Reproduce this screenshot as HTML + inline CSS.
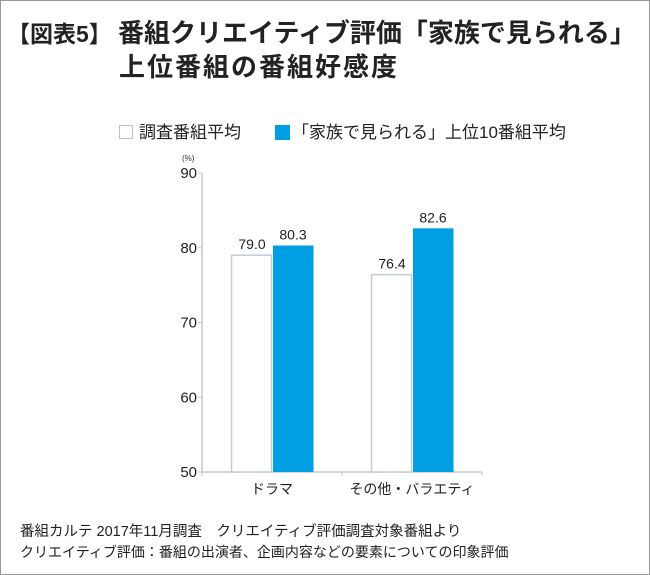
<!DOCTYPE html>
<html><head><meta charset="utf-8"><style>
html,body{margin:0;padding:0;background:#fff}
#wrap{position:relative;width:648px;height:573px;border:1px solid #9a9a9a;font-family:"Liberation Sans","Noto Sans CJK JP",sans-serif;color:#222;overflow:hidden}
.t{position:absolute;white-space:nowrap}
</style></head><body>
<div id="wrap">
<div class="t" style="left:6px;top:14px;font-size:23px;font-weight:bold;">【図表5】</div>
<div class="t" style="left:117px;top:12px;font-size:26px;font-weight:bold;">番組クリエイティブ評価「家族で見られる」</div>
<div class="t" style="left:118px;top:46px;font-size:26px;font-weight:bold;letter-spacing:2px;">上位番組の番組好感度</div>
<div class="t" style="left:118px;top:117px;font-size:17px;"><span style="display:inline-block;width:12px;height:12px;border:1.5px solid #b8c0c8;vertical-align:-1px;margin-right:6px"></span>調査番組平均</div>
<div class="t" style="left:274px;top:117px;font-size:17px;"><span style="display:inline-block;width:15px;height:15px;background:#009fe3;vertical-align:-2px;margin-right:2px"></span>「家族で見られる」上位10番組平均</div>
<svg id="chart" width="648" height="573" style="position:absolute;left:0;top:0"></svg>
<div class="t" style="left:19px;top:519px;font-size:14.5px;">番組カルテ 2017年11月調査　クリエイティブ評価調査対象番組より</div>
<div class="t" style="left:19px;top:541px;font-size:14px;">クリエイティブ評価：番組の出演者、企画内容などの要素についての印象評価</div>
</div>
<script>
const categories=["ドラマ","その他・バラエティ"];
const averageValues=[79.0,76.4];
const top10Values=[80.3,82.6];
const yTicks=[50,60,70,80,90];
const NS="http://www.w3.org/2000/svg";
const svg=document.getElementById('chart');
const x0=201,x1=481,yBase=471,yTop=172,vMin=50,vMax=90;
const yScale=v=>yBase-(v-vMin)/(vMax-vMin)*(yBase-yTop);
const band=(x1-x0)/categories.length;
function mk(tag,attrs){const e=document.createElementNS(NS,tag);for(const k in attrs)e.setAttribute(k,attrs[k]);svg.appendChild(e);return e;}
const ya=mk('line',{x1:x0,y1:yTop,x2:x0,y2:yBase,stroke:'#c8c8c8','stroke-width':1.5});


yTicks.forEach(v=>{const t=mk('text',{x:x0-5,y:yScale(v)+5,'text-anchor':'end','font-size':15,fill:'#222','font-family':'Liberation Sans, sans-serif'});t.textContent=v;


const tk=mk('line',{x1:x0-4,y1:yScale(v),x2:x0,y2:yScale(v),stroke:'#c8c8c8'});

});
const u=mk('text',{x:x0-20,y:yTop-12,'font-size':8,fill:'#333'});u.textContent='(%)';


const xa=mk('line',{x1:x0,y1:yBase,x2:x1,y2:yBase,stroke:'#c8c8c8','stroke-width':1.5});


for(let i=0;i<=categories.length;i++){const tk=mk('line',{x1:x0+i*band,y1:yBase,x2:x0+i*band,y2:yBase+4,stroke:'#c8c8c8'});

}
categories.forEach((c,i)=>{
 const cx=x0+band*(i+0.5);
 const w=40;
 const y1=yScale(averageValues[i]);
 const b1=mk('rect',{x:cx-w-0.5,y:y1,width:w,height:yBase-y1,fill:'#fff',stroke:'#c4ccd4','stroke-width':1.5});
 
 
 const y2=yScale(top10Values[i]);
 const b2=mk('rect',{x:cx+1,y:y2,width:w+0.5,height:yBase-y2,fill:'#009fe3'});
 
 
 const l1=mk('text',{x:cx-w/2,y:y1-6,'text-anchor':'middle','font-size':14,fill:'#222'});l1.textContent=averageValues[i].toFixed(1);
 
 
 const l2=mk('text',{x:cx+w/2+1,y:y2-6,'text-anchor':'middle','font-size':14,fill:'#222'});l2.textContent=top10Values[i].toFixed(1);
 
 
 const cl=mk('text',{x:cx,y:yBase+22,'text-anchor':'middle','font-size':14,fill:'#222','font-family':'Liberation Sans, Noto Sans CJK JP, sans-serif'});cl.textContent=c;
 
 
});
</script>
</body></html>
